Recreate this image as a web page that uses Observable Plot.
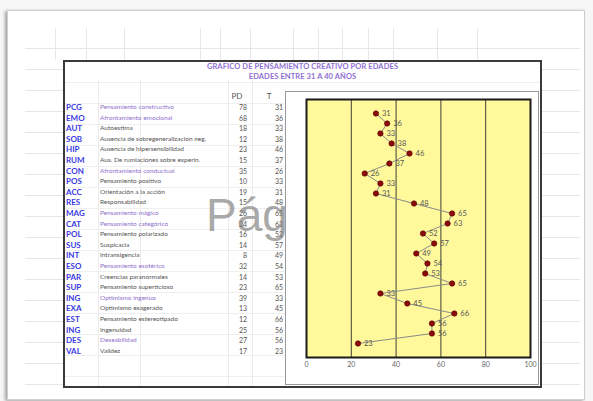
<!DOCTYPE html>
<html>
<head>
<meta charset="utf-8">
<script src="https://cdn.jsdelivr.net/npm/d3@7"></script>
<script src="https://cdn.jsdelivr.net/npm/@observablehq/plot@0.6"></script>
<style>
  html, body { margin: 0; padding: 0; background: #f6f6f6; }
  #root { position: relative; width: 593px; height: 401px; overflow: hidden; font-family: Lato, "Liberation Sans", Arial, sans-serif; }
  #page { position: absolute; left: 7px; top: 10px; width: 576px; height: 388px; background: #fff;
          border: 1px solid #cfcfcf; box-shadow: -2px 1px 3px rgba(0,0,0,0.35); }
  #gridH { position: absolute; left: 25px; top: 28px; width: 555px; height: 365px;
           background-image: repeating-linear-gradient(to bottom, transparent 0 9.6px, #e6e6e6 9.6px 10.5px); }
  #gridVtop { position: absolute; left: 25px; top: 28px; width: 555px; height: 32px; }
  .vl { position: absolute; width: 1px; background: #e6e6e6; }
  #frame { position: absolute; left: 63px; top: 60px; width: 475px; height: 324px; border: 2px solid #3a3a3a; background: #fff; overflow: hidden; }
  #frameGrid { position: absolute; left: 0; top: 0; width: 100%; height: 100%;
           background-image: repeating-linear-gradient(to bottom, transparent 0 9.6px, #efefef 9.6px 10.5px); }
  .title { position: absolute; left: 0; width: 475px; text-align: center; color: #8f6fd3; font-size: 7.5px; font-weight: bold; letter-spacing: 0.1px; }
  .row { position: absolute; left: 0; height: 10px; font-size: 6.5px; line-height: 10px; white-space: nowrap; }
  .code { position: absolute; left: 1px; color: #3a3adf; font-weight: bold; font-size: 8px; }
  .desc { position: absolute; left: 35px; color: #555; }
  .desc.main { color: #9070cc; }
  .num { position: absolute; text-align: right; width: 20px; color: #555; font-size: 7px; }
  #watermark { position: absolute; left: 206px; top: 188px; font-family: "Liberation Sans", Arial, sans-serif; font-size: 46px; color: rgba(130,130,130,0.7); }
  #chartBox { position: absolute; left: 285px; top: 91px; width: 252px; height: 292px; background: #fff; border: 1px solid #9a9a9a; }
  #chart { position: absolute; left: 285px; top: 91px; }
</style>
</head>
<body>
<div id="root">
  <div id="page"></div>
  <div id="gridH"></div>
  <div id="gridVtop"></div>
  <div id="frame"><div id="frameGrid"></div></div>
  <div id="watermark">Página 1</div>
  <div id="chartBox"></div>
  <div id="chart"></div>
</div>
<script>
// ---- Data ----
const titleLine1 = "GRAFICO DE PENSAMIENTO CREATIVO POR EDADES";
const titleLine2 = "EDADES ENTRE 31 A 40 AÑOS";
const codes = ["PCG","EMO","AUT","SOB","HIP","RUM","CON","POS","ACC","RES","MAG","CAT","POL","SUS","INT","ESO","PAR","SUP","ING","EXA","EST","ING","DES","VAL"];
const descriptions = [
  "Pensamiento constructivo","Afrontamiento emocional","Autoestima","Ausencia de sobregeneralizacion neg.",
  "Ausencia de hipersensibilidad","Aus. De rumiaciones sobre experin.","Afrontamiento conductual","Pensamiento positivo",
  "Orientación a la acción","Responsabilidad","Pensamiento mágico","Pensamiento categórico",
  "Pensamiento polarizado","Suspicacia","Intransigencia","Pensamiento esotérico",
  "Creencias paranormales","Pensamiento superticioso","Optimismo ingenuo","Optimismo exagerado",
  "Pensamiento estereotipado","Ingenuidad","Deseabilidad","Validez"];
const mainScales = ["Pensamiento constructivo","Afrontamiento emocional","Afrontamiento conductual","Pensamiento mágico",
  "Pensamiento categórico","Pensamiento esotérico","Optimismo ingenuo","Deseabilidad"];
const pdScores = [78,68,18,12,23,15,35,10,19,15,26,24,16,14,8,32,14,23,39,13,12,25,27,17];
const tScores  = [31,36,33,38,46,37,26,33,31,48,65,63,52,57,49,54,53,65,33,45,66,56,56,23];
const xTicks = [0,20,40,60,80,100];
const colHeaders = ["PD","T"];

// ---- Spreadsheet decoration ----
const vTop = document.getElementById("gridVtop");
[30,61,99,175,195,225,268,293,317,343,368,412,452].forEach(x => {
  const d = document.createElement("div"); d.className = "vl";
  d.style.left = x + "px"; d.style.top = "0px"; d.style.height = "32px"; vTop.appendChild(d);
});
const frame = document.getElementById("frame");
[33,75,163,187].forEach(x => {
  const d = document.createElement("div"); d.className = "vl";
  d.style.left = x + "px"; d.style.top = "18px"; d.style.height = "310px"; d.style.background = "#ececec"; frame.appendChild(d);
});
function addText(cls, text, left, top) {
  const d = document.createElement("div"); d.className = cls; d.textContent = text;
  d.style.top = top + "px"; if (left !== null) d.style.left = left + "px";
  frame.appendChild(d); return d;
}
addText("title", titleLine1, null, 0);
addText("title", titleLine2, null, 10);
const h1 = addText("num", colHeaders[0], 162, 29); h1.style.fontSize = "8px"; h1.style.textAlign = "center";
const h2 = addText("num", colHeaders[1], 194, 29); h2.style.fontSize = "8px"; h2.style.textAlign = "center";
codes.forEach((c, i) => {
  const top = 40 + i * 10.6;
  const row = document.createElement("div"); row.className = "row"; row.style.top = top + "px"; row.style.width = "475px";
  const a = document.createElement("span"); a.className = "code"; a.textContent = c; row.appendChild(a);
  const b = document.createElement("span"); b.className = "desc" + (mainScales.includes(descriptions[i]) ? " main" : ""); b.textContent = descriptions[i]; row.appendChild(b);
  const p = document.createElement("span"); p.className = "num"; p.style.left = "162px"; p.textContent = pdScores[i]; row.appendChild(p);
  const t = document.createElement("span"); t.className = "num"; t.style.left = "198px"; t.textContent = tScores[i]; row.appendChild(t);
  frame.appendChild(row);
});

// ---- Chart ----
const data = codes.map((c, i) => ({i, code: c, t: tScores[i]}));
const chart = Plot.plot({
  width: 254, height: 293,
  marginLeft: 21, marginRight: 9, marginTop: 8, marginBottom: 27,
  style: {background: "transparent", fontFamily: "Lato, 'Liberation Sans', Arial, sans-serif", fontSize: "7px", color: "#666"},
  x: {domain: [0, 100], ticks: xTicks, tickSize: 0, tickPadding: 5, label: null},
  y: {type: "point", domain: d3.range(codes.length), padding: 1, axis: null},
  marks: [
    Plot.frame({fill: "#fff99c"}),
    Plot.ruleX(xTicks.slice(1, -1), {stroke: "#2a2a2a", strokeWidth: 0.9}),
    Plot.frame({stroke: "#1a1a1a", strokeWidth: 2}),
    Plot.line(data, {x: "t", y: "i", stroke: "#8a8a8a", strokeWidth: 1}),
    Plot.dot(data, {x: "t", y: "i", r: 2.7, fill: "#8b0a0a", stroke: "#5c0000", strokeWidth: 0.6}),
    Plot.text(data, {x: "t", y: "i", text: d => String(d.t), dx: 6, textAnchor: "start", fill: "#555", fontSize: 7.5})
  ]
});
document.getElementById("chart").appendChild(chart);
</script>
</body>
</html>
